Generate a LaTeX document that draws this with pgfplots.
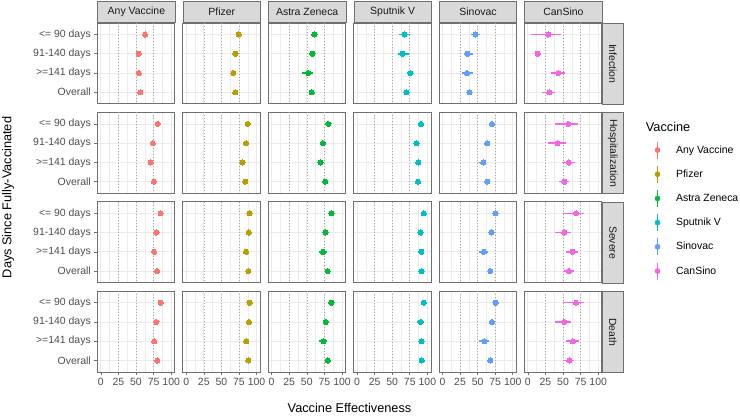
\documentclass[border=0pt]{standalone}
\usepackage{fontspec}
\setmainfont{Liberation Sans}
\usepackage{pgfplots}
\usepackage{pgfplotstable}
\pgfplotsset{compat=1.18}
\definecolor{cAny}{HTML}{F8766D}
\definecolor{cPfi}{HTML}{B79F00}
\definecolor{cAst}{HTML}{00BA38}
\definecolor{cSpu}{HTML}{00BFC4}
\definecolor{cSin}{HTML}{619CFF}
\definecolor{cCan}{HTML}{F564E3}
\definecolor{gridc}{HTML}{EBEBEB}
\definecolor{borderc}{HTML}{6F6F6F}
\definecolor{tickc}{HTML}{4D4D4D}
\definecolor{stripc}{HTML}{D9D9D9}
\definecolor{striptext}{HTML}{1A1A1A}
\definecolor{dotc}{HTML}{A6A6A6}
\newcommand\fs{\fontsize{10.5}{12}\selectfont}
\newcommand\ft{\fontsize{12.8}{15}\selectfont}

% columns: measure, lower, upper for Infection, Hospitalization, Severe, Death
\pgfplotstableread{
cat inf infl infh hos hosl hosh sev sevl sevh dea deal deah
1 62.8 61.0 64.6 80.7 79.2 82.2 85.0 83.5 86.5 85.0 83.5 86.5
2 53.8 52.0 55.6 74.0 72.5 75.5 79.0 77.5 80.5 79.0 77.5 80.5
3 54.0 52.0 56.0 71.0 69.5 72.5 75.8 74.2 77.4 75.8 74.2 77.4
4 56.0 55.0 57.0 75.5 74.5 76.5 80.0 79.0 81.0 80.0 79.0 81.0
}\tAny
\pgfplotstableread{
cat inf infl infh hos hosl hosh sev sevl sevh dea deal deah
1 74.5 73.0 76.0 87.3 86.0 88.6 90.0 89.0 91.0 90.0 89.0 91.0
2 70.0 68.5 71.5 85.0 83.8 86.2 89.0 88.0 90.0 89.0 88.0 90.0
3 67.0 65.0 69.0 80.0 78.5 81.5 85.0 83.5 86.5 85.3 83.8 86.8
4 69.7 68.8 70.6 84.0 83.2 84.8 88.3 87.6 89.0 88.3 87.6 89.0
}\tPfi
\pgfplotstableread{
cat inf infl infh hos hosl hosh sev sevl sevh dea deal deah
1 60.8 59.0 62.6 80.7 79.0 82.4 85.0 83.3 86.7 85.0 83.3 86.7
2 58.0 54.5 61.5 73.0 70.5 75.5 76.6 74.0 79.0 77.0 74.5 79.5
3 52.0 43.3 59.5 69.5 65.0 73.0 73.0 67.0 78.5 73.5 67.0 78.5
4 57.0 55.5 58.5 76.0 74.5 77.5 79.6 78.0 81.2 80.0 78.5 81.5
}\tAst
\pgfplotstableread{
cat inf infl infh hos hosl hosh sev sevl sevh dea deal deah
1 67.5 59.5 75.0 90.7 88.7 92.7 95.0 93.5 96.5 95.0 93.5 96.5
2 65.0 58.5 73.5 84.5 82.5 86.5 90.3 88.5 92.1 90.3 88.5 92.1
3 76.0 71.0 80.0 87.0 85.0 89.0 91.2 89.4 93.0 91.7 89.9 93.5
4 70.5 65.0 74.0 86.6 85.2 88.0 91.7 90.5 92.9 92.0 90.8 93.2
}\tSpu
\pgfplotstableread{
cat inf infl infh hos hosl hosh sev sevl sevh dea deal deah
1 47.0 40.5 54.0 70.3 67.0 73.0 75.5 73.0 78.0 75.5 73.0 78.0
2 36.0 30.5 43.0 63.6 61.0 66.0 69.7 67.0 72.0 70.3 67.5 73.0
3 35.0 27.5 43.0 58.0 50.5 62.5 59.0 52.5 65.0 59.5 52.5 66.5
4 38.6 35.5 41.5 63.6 61.5 65.5 68.0 66.0 70.0 68.0 66.0 70.0
}\tSin
\pgfplotstableread{
cat inf infl infh hos hosl hosh sev sevl sevh dea deal deah
1 29.0 5.0 46.5 57.5 39.0 71.0 68.5 50.0 80.5 68.5 50.0 80.5
2 14.0 12.0 16.0 42.5 29.0 54.0 52.0 39.0 61.5 52.0 39.0 61.0
3 43.5 32.5 53.5 58.5 49.0 67.5 63.5 54.0 72.0 64.0 54.0 72.5
4 30.5 20.5 38.0 52.0 44.5 58.5 58.5 52.0 65.0 59.0 52.0 65.0
}\tCan

\pgfplotsset{
  panel/.style={
    scale only axis, width=77.4bp, height=80.8bp, anchor=north west,
    xmin=-5, xmax=105, ymin=0.4, ymax=4.6, y dir=reverse,
    xtick={0,25,50,75,100}, minor xtick={12.5,37.5,62.5,87.5},
    ytick={1,2,3,4}, xticklabels={}, yticklabels={},
    xmajorgrids=true, ymajorgrids=true, xminorgrids=true,
    major grid style={color=gridc, line width=0.7bp},
    minor grid style={color=gridc, line width=0.35bp},
    axis line style={draw=borderc, line width=0.8bp},
    tick pos=left, tick align=outside,
    major tick length=3bp, minor tick length=0bp,
    tick style={color=borderc, line width=0.6bp},
    ticklabel style={font=\fs, text=tickc},
  },
  leftcol/.style={yticklabels={{<= 90 days},{91-140 days},{>=141 days},{Overall}}},
  innercol/.style={ytick style={draw=none}},
  bottomrow/.style={xticklabels={0,25,50,75,100}},
  innerrow/.style={xtick style={draw=none}},
}

\newcommand{\panel}[6]{%
\begin{axis}[panel, at={(#1bp,-#2bp)}, #6]
\addplot[dotc, line width=0.6bp, dash pattern=on 0.9bp off 2.1bp, forget plot] coordinates {(25,0.4) (25,4.6)};
\addplot[dotc, line width=0.6bp, dash pattern=on 0.9bp off 2.1bp, forget plot] coordinates {(50,0.4) (50,4.6)};
\addplot[dotc, line width=0.6bp, dash pattern=on 0.9bp off 2.1bp, forget plot] coordinates {(75,0.4) (75,4.6)};
\addplot[#4, only marks, mark=*, mark size=2.6bp, mark options={fill=#4, draw=#4, line width=0bp},
  error bars/.cd, x dir=both, x explicit, error mark=none,
  error bar style={line width=1.5bp, #4}]
  table[x=#5, y=cat, x error plus expr=\thisrow{#5h}-\thisrow{#5}, x error minus expr=\thisrow{#5}-\thisrow{#5l}] {#3};
\end{axis}}

\newcommand{\topstrip}[2]{%
\node[draw=borderc, line width=0.8bp, fill=stripc, minimum width=77.4bp, minimum height=21.7bp, anchor=south west, inner sep=0pt, text=striptext, font=\fs] at (#1bp,-23bp) {#2};}
\newcommand{\rightstrip}[2]{%
\node[rotate=-90, draw=borderc, line width=0.8bp, fill=stripc, minimum width=80.8bp, minimum height=21.5bp, anchor=south west, inner sep=0pt, text=striptext, font=\fs] at (601.7bp,-#1bp) {#2};}

\begin{document}
\begin{tikzpicture}
\useasboundingbox (0bp,0bp) rectangle (740bp,-419bp);
% Row 1: Infection
\panel{97.3}{23}{\tAny}{cAny}{inf}{leftcol,innerrow}
\panel{182.7}{23}{\tPfi}{cPfi}{inf}{innercol,innerrow}
\panel{268.1}{23}{\tAst}{cAst}{inf}{innercol,innerrow}
\panel{353.5}{23}{\tSpu}{cSpu}{inf}{innercol,innerrow}
\panel{438.9}{23}{\tSin}{cSin}{inf}{innercol,innerrow}
\panel{524.3}{23}{\tCan}{cCan}{inf}{innercol,innerrow}
% Row 2: Hospitalization
\panel{97.3}{112.4}{\tAny}{cAny}{hos}{leftcol,innerrow}
\panel{182.7}{112.4}{\tPfi}{cPfi}{hos}{innercol,innerrow}
\panel{268.1}{112.4}{\tAst}{cAst}{hos}{innercol,innerrow}
\panel{353.5}{112.4}{\tSpu}{cSpu}{hos}{innercol,innerrow}
\panel{438.9}{112.4}{\tSin}{cSin}{hos}{innercol,innerrow}
\panel{524.3}{112.4}{\tCan}{cCan}{hos}{innercol,innerrow}
% Row 3: Severe
\panel{97.3}{201.8}{\tAny}{cAny}{sev}{leftcol,innerrow}
\panel{182.7}{201.8}{\tPfi}{cPfi}{sev}{innercol,innerrow}
\panel{268.1}{201.8}{\tAst}{cAst}{sev}{innercol,innerrow}
\panel{353.5}{201.8}{\tSpu}{cSpu}{sev}{innercol,innerrow}
\panel{438.9}{201.8}{\tSin}{cSin}{sev}{innercol,innerrow}
\panel{524.3}{201.8}{\tCan}{cCan}{sev}{innercol,innerrow}
% Row 4: Death
\panel{97.3}{291.2}{\tAny}{cAny}{dea}{leftcol,bottomrow}
\panel{182.7}{291.2}{\tPfi}{cPfi}{dea}{innercol,bottomrow}
\panel{268.1}{291.2}{\tAst}{cAst}{dea}{innercol,bottomrow}
\panel{353.5}{291.2}{\tSpu}{cSpu}{dea}{innercol,bottomrow}
\panel{438.9}{291.2}{\tSin}{cSin}{dea}{innercol,bottomrow}
\panel{524.3}{291.2}{\tCan}{cCan}{dea}{innercol,bottomrow}
% strips
\topstrip{97.3}{Any Vaccine}
\topstrip{182.7}{Pfizer}
\topstrip{268.1}{Astra Zeneca}
\topstrip{353.5}{Sputnik V}
\topstrip{438.9}{Sinovac}
\topstrip{524.3}{CanSino}
\rightstrip{23}{Infection}
\rightstrip{112.4}{Hospitalization}
\rightstrip{201.8}{Severe}
\rightstrip{291.2}{Death}
% titles
\node[rotate=90, font=\ft, inner sep=0pt] at (8bp,-197.5bp) {Days Since Fully-Vaccinated};
\node[font=\ft, inner sep=0pt] at (349.5bp,-408bp) {Vaccine Effectiveness};
\node[anchor=west, font=\ft, inner sep=0pt] at (645.7bp,-126.7bp) {Vaccine};
% legend
\begin{axis}[hide axis, scale only axis, width=1bp, height=1bp, at={(654.7bp,-140.8bp)}, anchor=north west,
  xmin=0, xmax=1, ymin=0, ymax=1,
  legend cell align=left,
  legend style={at={(0,1)}, anchor=north west, draw=none, fill=none, inner sep=0pt, outer sep=0pt,
    row sep=5.7bp, column sep=15.8bp, font=\fs, nodes={inner sep=0pt}}]
\addlegendimage{legend image code/.code={\draw[line width=1.5bp,cAny] (0bp,-8.5bp)--(0bp,8.5bp); \fill[cAny] (0bp,0bp) circle (2.6bp);}}
\addlegendentry{Any Vaccine}
\addlegendimage{legend image code/.code={\draw[line width=1.5bp,cPfi] (0bp,-8.5bp)--(0bp,8.5bp); \fill[cPfi] (0bp,0bp) circle (2.6bp);}}
\addlegendentry{Pfizer}
\addlegendimage{legend image code/.code={\draw[line width=1.5bp,cAst] (0bp,-8.5bp)--(0bp,8.5bp); \fill[cAst] (0bp,0bp) circle (2.6bp);}}
\addlegendentry{Astra Zeneca}
\addlegendimage{legend image code/.code={\draw[line width=1.5bp,cSpu] (0bp,-8.5bp)--(0bp,8.5bp); \fill[cSpu] (0bp,0bp) circle (2.6bp);}}
\addlegendentry{Sputnik V}
\addlegendimage{legend image code/.code={\draw[line width=1.5bp,cSin] (0bp,-8.5bp)--(0bp,8.5bp); \fill[cSin] (0bp,0bp) circle (2.6bp);}}
\addlegendentry{Sinovac}
\addlegendimage{legend image code/.code={\draw[line width=1.5bp,cCan] (0bp,-8.5bp)--(0bp,8.5bp); \fill[cCan] (0bp,0bp) circle (2.6bp);}}
\addlegendentry{CanSino}
\end{axis}
\end{tikzpicture}
\end{document}
